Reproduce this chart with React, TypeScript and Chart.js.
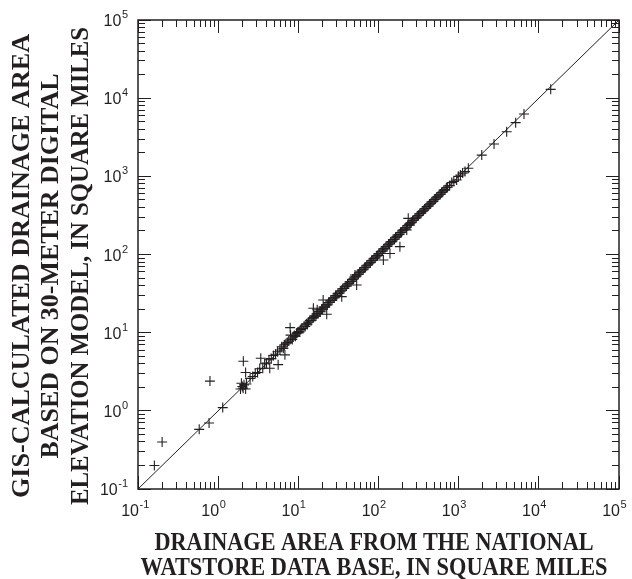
import React, { useEffect, useRef } from "react";
import { Chart, registerables } from "chart.js";

Chart.register(...registerables);

// ---- data ----
const xValues = [
  0.16, 0.2, 0.58, 0.77, 0.79, 1.14,
  1.9, 1.95, 2.0, 2.05, 2.1, 2.2, 2.25, 2.06, 2.2, 2.5, 2.7, 2.9, 3.1, 3.4, 3.3, 3.6, 3.8, 4.0,
  4.4, 4.3, 4.6, 4.9, 5.2, 5.6, 5.5, 5.9, 6.2, 6.5, 6.8, 6.7, 7.0, 7.3, 7.6, 7.9, 8.0, 8.1,
  8.4, 8.6, 8.9, 9.2, 9.5, 9.8, 10.1, 10.4, 10.7, 11.0, 11.4, 11.8, 12.2, 12.6, 13.0, 13.4,
  13.9, 14.4, 14.9, 15.4, 15.5, 16.0, 16.6, 17.2, 17.0, 17.6, 18.2, 18.8, 19.5, 20.1, 20.4,
  20.8, 21.5, 22.2, 22.6, 23.0, 23.8, 24.6, 25.4, 26.3, 27.2, 28.1, 29.1, 30.1, 31.2, 32.3,
  33.4, 34.8, 34.6, 35.8, 37.1, 38.4, 39.7, 41.1, 42.6, 44.1, 45.6, 47.2, 48.9, 50.6, 50.9,
  52.4, 53.4, 54.2, 56.1, 58.1, 60.1, 62.2, 64.4, 66.7, 69.0, 71.4, 73.9, 76.5, 79.2, 82.0,
  84.8, 87.8, 90.9, 94.1, 97.4, 100.8, 104, 108, 112, 115, 116, 120, 124, 128, 133, 139, 137,
  142, 147, 152, 158, 163, 169, 175, 181, 185, 188, 194, 201, 208, 215, 225, 223, 235, 231,
  247, 240, 248, 257, 266, 275, 285, 295, 305, 316, 327, 339, 351, 363, 376, 389, 403, 417,
  432, 447, 463, 479, 496, 514, 532, 551, 570, 590, 611, 633, 655, 678, 702, 727, 770, 820,
  870, 944, 990, 1050, 1120, 1200, 1320, 1940, 2760, 3970, 5140, 6530, 14060,
];
const yValues = [
  0.2, 0.4, 0.58, 0.7, 2.4, 1.1,
  1.9, 2.25, 2.05, 1.95, 2.15, 1.9, 2.2, 4.3, 3.1, 2.6, 2.75, 3.0, 3.1, 4.7, 3.45, 3.5, 4.0, 4.1,
  3.5, 4.5, 4.65, 5.1, 5.3, 3.9, 5.7, 6.0, 6.6, 6.3, 5.2, 7.0, 7.2, 7.5, 7.8, 11.6, 9.3, 8.3,
  8.2, 8.8, 9.2, 9.0, 9.8, 10.1, 10.3, 10.2, 11.0, 11.3, 11.2, 12.1, 12.0, 13.0, 12.8, 13.6,
  14.3, 14.2, 15.3, 20.5, 15.6, 16.4, 16.3, 19.6, 17.4, 17.5, 18.7, 18.5, 19.9, 20.0, 26.2,
  21.3, 21.2, 22.8, 17.2, 22.6, 24.3, 24.4, 26.0, 25.9, 27.8, 28.0, 29.8, 29.7, 31.9, 32.0,
  34.1, 28.9, 34.4, 36.5, 36.8, 39.2, 39.4, 41.9, 42.3, 45.0, 45.2, 48.1, 48.5, 51.6, 54.7,
  52.0, 40.7, 55.2, 55.7, 59.2, 59.6, 63.4, 63.9, 67.9, 68.5, 72.8, 73.3, 78.0, 78.6, 83.5,
  84.2, 89.5, 90.2, 95.9, 96.7, 102.7, 103, 110, 111, 85, 118, 119, 126, 127, 135, 103, 136,
  145, 146, 155, 157, 166, 168, 178, 180, 126, 191, 193, 205, 207, 219, 206, 222, 290, 235,
  238, 239, 252, 256, 271, 274, 290, 294, 311, 315, 333, 338, 357, 362, 383, 388, 410, 416,
  440, 446, 471, 478, 505, 512, 542, 549, 580, 588, 622, 630, 667, 676, 715, 724, 760, 832,
  862, 898, 1000, 1040, 1100, 1150, 1270, 1870, 2590, 3720, 4860, 6270, 12970,
];
const oneToOne = [0.1, 100000];
const tickValues = [0.1, 1, 10, 100, 1000, 10000, 100000];
const tickExponents = ["-1", "0", "1", "2", "3", "4", "5"];
const minorMultipliers = [2, 3, 4, 5, 6, 7, 8, 9];
const yTitleLines = [
  "GIS-CALCULATED DRAINAGE AREA",
  "BASED ON 30-METER DIGITAL",
  "ELEVATION MODEL, IN SQUARE MILES",
];
const xTitleLines = [
  "DRAINAGE AREA FROM THE NATIONAL",
  "WATSTORE DATA BASE, IN SQUARE MILES",
];

const INK = "#231f20";
const NARROW = "'Liberation Sans Narrow', 'Arial Narrow', 'Liberation Sans', Arial, sans-serif";
const SERIF = "'Liberation Serif', 'Times New Roman', 'DejaVu Serif', serif";

const yTitleBaselines = [29, 58, 88];
const yTitleWidths = [464, 385, 478];
const xTitleBaselines = [550, 575];
const xTitleWidths = [439, 467];

function fitCentered(ctx: CanvasRenderingContext2D, text: string, target: number) {
  const w = ctx.measureText(text).width;
  const s = w > 0 ? target / w : 1;
  ctx.scale(s, 1);
  ctx.textAlign = "center";
  ctx.textBaseline = "alphabetic";
  ctx.fillText(text, 0, 0);
}

const decorPlugin = {
  id: "decor",
  afterDraw(chart: any) {
    const ctx: CanvasRenderingContext2D = chart.ctx;
    const a = chart.chartArea;
    const xs = chart.scales.x;
    const ys = chart.scales.y;
    const L = a.left, R = a.right, T = a.top, B = a.bottom;
    ctx.save();
    ctx.strokeStyle = INK;
    ctx.fillStyle = INK;

    // ticks (inward on all four sides), crisp single-pixel bars
    const addTick = (v: number, len: number) => {
      const px = Math.floor(xs.getPixelForValue(v));
      const py = Math.floor(ys.getPixelForValue(v));
      ctx.fillRect(px, B - len, 1, len);
      ctx.fillRect(px, T, 1, len);
      ctx.fillRect(L, py, len, 1);
      ctx.fillRect(R - len, py, len, 1);
    };
    for (let i = 0; i < tickValues.length; i++) {
      const base = tickValues[i];
      addTick(base, 13);
      if (i < tickValues.length - 1) {
        for (const m of minorMultipliers) addTick(base * m, 7);
      }
    }

    // frame
    ctx.lineWidth = 1.5;
    ctx.strokeRect(L, T, R - L, B - T);

    // tick labels
    const bigFont = `16px ${NARROW}`;
    const supFont = `11px ${NARROW}`;
    tickValues.forEach((v, i) => {
      const exp = tickExponents[i];
      const px = xs.getPixelForValue(v);
      ctx.textBaseline = "alphabetic";
      ctx.font = bigFont;
      ctx.textAlign = "right";
      ctx.fillText("10", px + 1, 516);
      ctx.font = supFont;
      ctx.textAlign = "left";
      ctx.fillText(exp, px + 1.5, 508);
      const py = ys.getPixelForValue(v);
      ctx.font = supFont;
      const sw = ctx.measureText(exp).width;
      ctx.textAlign = "right";
      ctx.fillText(exp, L - 10, py - 2);
      ctx.font = bigFont;
      ctx.fillText("10", L - 10 - sw - 0.5, py + 6);
    });

    // axis titles
    ctx.font = `bold 25px ${SERIF}`;
    const cy = 266;
    yTitleLines.forEach((line, i) => {
      ctx.save();
      ctx.translate(yTitleBaselines[i], cy);
      ctx.rotate(-Math.PI / 2);
      fitCentered(ctx, line, yTitleWidths[i]);
      ctx.restore();
    });
    const cx = 374;
    xTitleLines.forEach((line, i) => {
      ctx.save();
      ctx.translate(cx, xTitleBaselines[i]);
      fitCentered(ctx, line, xTitleWidths[i]);
      ctx.restore();
    });
    ctx.restore();
  },
};

export default function App() {
  const ref = useRef<HTMLCanvasElement>(null);
  useEffect(() => {
    const canvas = ref.current;
    if (!canvas) return;
    const chart = new Chart(canvas, {
      type: "scatter",
      data: {
        datasets: [
          {
            type: "line",
            data: oneToOne.map((v) => ({ x: v, y: v })),
            borderColor: INK,
            borderWidth: 1,
            pointRadius: 0,
            fill: false,
          } as any,
          {
            data: xValues.map((x, i) => ({ x, y: yValues[i] })),
            pointStyle: "cross",
            pointRadius: 5,
            borderColor: INK,
            backgroundColor: INK,
            borderWidth: 1.1,
          },
        ],
      },
      options: {
        responsive: false,
        animation: false,
        devicePixelRatio: 1,
        layout: { padding: { left: 138, right: 13, top: 20, bottom: 90 } },
        plugins: { legend: { display: false }, tooltip: { enabled: false } },
        scales: {
          x: { type: "logarithmic", min: 0.1, max: 100000, display: false },
          y: { type: "logarithmic", min: 0.1, max: 100000, display: false },
        },
      },
      plugins: [decorPlugin],
    });
    return () => chart.destroy();
  }, []);
  return (
    <div style={{ position: "fixed", left: 0, top: 0, width: 632, height: 579, background: "#fff" }}>
      <canvas ref={ref} width={632} height={579} />
    </div>
  );
}
